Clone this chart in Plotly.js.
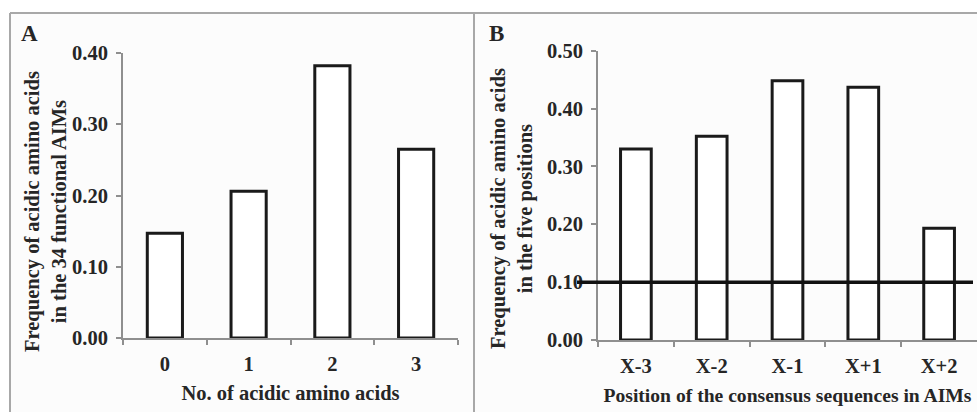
<!DOCTYPE html>
<html>
<head>
<meta charset="utf-8">
<script src="https://cdn.plot.ly/plotly-3.0.1.min.js"></script>
<style>
  html, body { margin: 0; padding: 0; background: #ffffff; }
  #chart { width: 977px; height: 412px; }
</style>
</head>
<body>
<div id="chart"></div>
<script>
// Panel A data
const catsA = ["0", "1", "2", "3"];
const valsA = [0.147, 0.206, 0.382, 0.265];
// Panel B data
const catsB = ["X-3", "X-2", "X-1", "X+1", "X+2"];
const valsB = [0.330, 0.352, 0.448, 0.437, 0.193];
const refLineB = 0.10;

const W = 977, H = 412;
const px = x => x / W;
const py = y => (H - y) / H;

const font = "'Liberation Serif', 'Times New Roman', serif";
const axisGray = "#8f8f8f";
const textColor = "#262626";
const FS = 20.5;

const barStyle = {
  type: "bar",
  marker: { color: "#ffffff", line: { color: "#1a1a1a", width: 3 } },
  hoverinfo: "x+y",
  showlegend: false
};

const traces = [
  Object.assign({}, barStyle, { x: catsA, y: valsA, xaxis: "x", yaxis: "y", width: 0.42 }),
  Object.assign({}, barStyle, { x: catsB, y: valsB, xaxis: "x2", yaxis: "y2", width: 0.405 })
];

const tickFont = { family: font, size: FS, color: textColor, weight: "bold" };

function yAxis(range, domain, anchor) {
  return {
    domain: domain, range: range, anchor: anchor,
    dtick: 0.1, tickformat: ".2f",
    showgrid: false, zeroline: false,
    showline: true, linecolor: axisGray, linewidth: 2,
    ticks: "outside", ticklen: 5, tickwidth: 2, tickcolor: axisGray,
    tickfont: tickFont, ticklabelstandoff: 4, fixedrange: true
  };
}
function xAxis(domain, anchor, title, size, standoff) {
  return {
    domain: domain, anchor: anchor, type: "category",
    showgrid: false, zeroline: false,
    showline: true, linecolor: axisGray, linewidth: 2,
    ticks: "outside", tickson: "boundaries", ticklen: 5, tickwidth: 2, tickcolor: axisGray,
    tickfont: tickFont, ticklabelstandoff: 6,
    title: { text: title, font: { family: font, size: size, color: textColor, weight: "bold" }, standoff: standoff },
    fixedrange: true
  };
}

const layout = {
  width: W, height: H,
  margin: { l: 0, r: 0, t: 0, b: 0 },
  paper_bgcolor: "#ffffff",
  plot_bgcolor: "rgba(0,0,0,0)",
  showlegend: false,
  xaxis: xAxis([px(123), px(458)], "y", "<b>No. of acidic amino acids</b>", FS, 12),
  yaxis: yAxis([0, 0.4], [py(338), py(53)], "x"),
  xaxis2: xAxis([px(598), 1], "y2", "<b>Position of the consensus sequences in AIMs</b>", 19.6, 12.5),
  yaxis2: yAxis([0, 0.5], [py(340), py(50.7)], "x2"),
  shapes: [
    { type: "rect", xref: "paper", yref: "paper", x0: px(10), x1: 1, y0: 0, y1: py(13),
      fillcolor: "#fcfcfc", line: { width: 0 }, layer: "below" },
    { type: "line", xref: "paper", yref: "paper", x0: px(10), x1: 1, y0: py(13), y1: py(13),
      line: { color: "#a8a8a8", width: 2 } },
    { type: "line", xref: "paper", yref: "paper", x0: px(10), x1: px(10), y0: 0, y1: py(13),
      line: { color: "#a8a8a8", width: 2 } },
    { type: "line", xref: "paper", yref: "paper", x0: px(474), x1: px(474), y0: 0, y1: py(13),
      line: { color: "#a8a8a8", width: 2 } },
    { type: "line", xref: "paper", yref: "y2", x0: px(577), x1: px(973), y0: refLineB, y1: refLineB,
      line: { color: "#111111", width: 3.5 } }
  ],
  annotations: [
    { text: "<b>A</b>", xref: "paper", yref: "paper", x: px(19), y: py(34), xanchor: "left", yanchor: "middle",
      showarrow: false, font: { family: font, size: 23, color: textColor } },
    { text: "<b>B</b>", xref: "paper", yref: "paper", x: px(487), y: py(34), xanchor: "left", yanchor: "middle",
      showarrow: false, font: { family: font, size: 23, color: textColor } },
    { text: "<b>Frequency of acidic amino acids<br>in the 34 functional AIMs</b>", xref: "paper", yref: "paper",
      x: px(45), y: py(212), xanchor: "center", yanchor: "middle", textangle: -90, showarrow: false,
      font: { family: font, size: FS, color: textColor } },
    { text: "<b>Frequency of acidic amino acids<br>in the five positions</b>", xref: "paper", yref: "paper",
      x: px(512), y: py(209), xanchor: "center", yanchor: "middle", textangle: -90, showarrow: false,
      font: { family: font, size: FS, color: textColor } }
  ]
};

Plotly.newPlot("chart", traces, layout, { displayModeBar: false, staticPlot: true });
</script>
</body>
</html>
